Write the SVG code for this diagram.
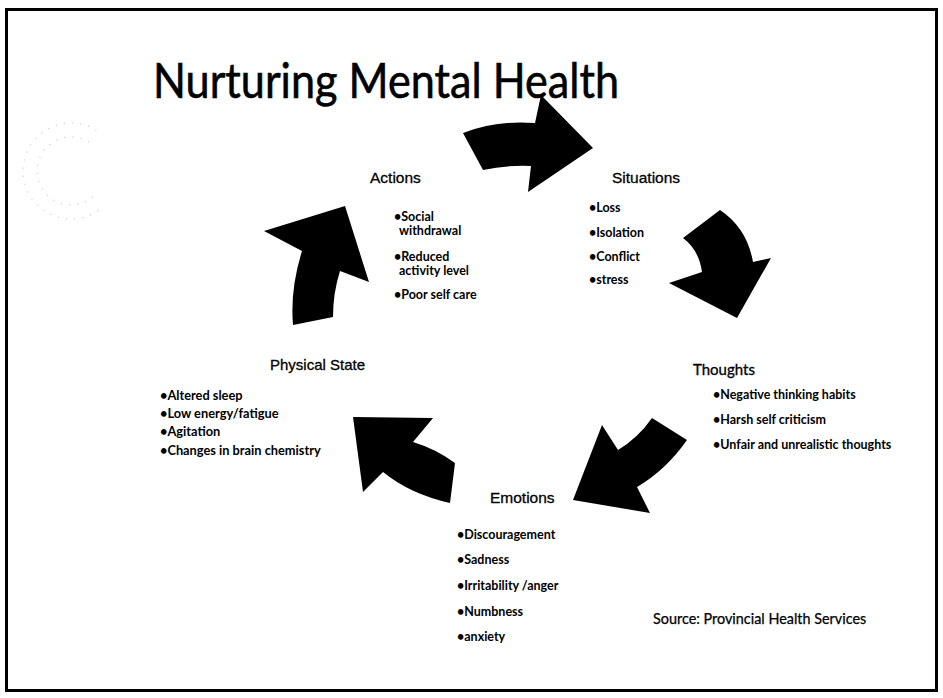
<svg xmlns="http://www.w3.org/2000/svg" width="943" height="698" viewBox="0 0 943 698">
  <style>
    .frame { fill: #ffffff; stroke: #000000; stroke-width: 3; }
    .deco { fill: none; stroke: #cfcfcf; stroke-width: 1.2; stroke-dasharray: 1.2 7; }
    .title { font-family: Lato, "Open Sans", "Liberation Sans", sans-serif; font-size: 48px; fill: #000; stroke: #000; stroke-width: 0.6; }
    .head { font-family: "Liberation Sans", Arial, sans-serif; font-size: 15.5px; fill: #000; stroke: #000; stroke-width: 0.3; }
    .headg { font-family: Lato, "Open Sans", sans-serif; font-size: 15px; fill: #000; stroke: #000; stroke-width: 0.3; }
    .item { font-family: Lato, "Open Sans", sans-serif; font-size: 12.5px; font-weight: 700; fill: #000; }
    .src { font-family: Lato, "Open Sans", sans-serif; font-size: 14.4px; fill: #000; stroke: #000; stroke-width: 0.25; }
    .arrow { fill: #000000; }
  </style>

  <!-- slide frame -->
  <rect class="frame" x="6.5" y="9.5" width="930" height="681"/>

  <!-- faint decorative ring -->
  <path class="deco" d="M96.4,130.3 A48,48 0 1 0 101.9,207.8"/>
  <path class="deco" d="M89,142 A34,34 0 1 0 93,197" stroke="#dedede"/>

  <!-- heading -->
  <text class="title" x="153" y="98" textLength="466" lengthAdjust="spacingAndGlyphs">Nurturing Mental Health</text>

  <!-- cycle arrows -->
  <g id="connectors">
    <!-- Actions -> Situations -->
    <path class="arrow" d="M463,133 Q496,120 535,123 L541,95 L593,148 L528,192 L531,166 Q505,165 483,170 Z"/>
    <!-- Situations -> Thoughts -->
    <path class="arrow" d="M720,210 Q747,228 753,262 L771,258 L737,318 L669,283 L702,272 Q699,250 683,238 Z"/>
    <!-- Thoughts -> Emotions -->
    <path class="arrow" d="M652,418 L687,440 Q666,470 637,487 L650,513 L573,500 L602,425 L618,450 Q638,438 652,418 Z"/>
    <!-- Emotions -> Physical State -->
    <path class="arrow" d="M353,417 L433,418 L413,442 Q436,449 455,463 L450,503 Q410,494 383,472 L363,492 Z"/>
    <!-- Physical State -> Actions -->
    <path class="arrow" d="M345,206 L369,282 L340,271 Q333,293 333,317 L293,325 Q290,289 302,251 L264,231 Z"/>
  </g>

  <g id="actions">
    <text class="head" x="370" y="183">Actions</text>
    <text class="item" x="394" y="221">•Social</text>
    <text class="item" x="399" y="235">withdrawal</text>
    <text class="item" x="394" y="261">•Reduced</text>
    <text class="item" x="399" y="275">activity level</text>
    <text class="item" x="394" y="299">•Poor self care</text>
  </g>

  <g id="situations">
    <text class="head" x="612" y="183">Situations</text>
    <text class="item" x="589" y="212">•Loss</text>
    <text class="item" x="589" y="237">•Isolation</text>
    <text class="item" x="589" y="261">•Conflict</text>
    <text class="item" x="589" y="284">•stress</text>
  </g>

  <g id="thoughts">
    <text class="headg" x="693" y="375">Thoughts</text>
    <text class="item" x="713" y="399">•Negative thinking habits</text>
    <text class="item" x="713" y="424">•Harsh self criticism</text>
    <text class="item" x="713" y="449">•Unfair and unrealistic thoughts</text>
  </g>

  <g id="emotions">
    <text class="head" x="490" y="503">Emotions</text>
    <text class="item" x="457" y="539">•Discouragement</text>
    <text class="item" x="457" y="564">•Sadness</text>
    <text class="item" x="457" y="590">•Irritability /anger</text>
    <text class="item" x="457" y="616">•Numbness</text>
    <text class="item" x="457" y="641">•anxiety</text>
  </g>

  <g id="physical-state">
    <text class="head" x="270" y="370" style="font-size:15px">Physical State</text>
    <text class="item" x="160" y="400" style="font-size:12.8px">•Altered sleep</text>
    <text class="item" x="160" y="418" style="font-size:12.8px">•Low energy/fatigue</text>
    <text class="item" x="160" y="436" style="font-size:12.8px">•Agitation</text>
    <text class="item" x="160" y="455" style="font-size:12.8px">•Changes in brain chemistry</text>
  </g>

  <text class="src" x="653" y="624">Source: Provincial Health Services</text>
</svg>
